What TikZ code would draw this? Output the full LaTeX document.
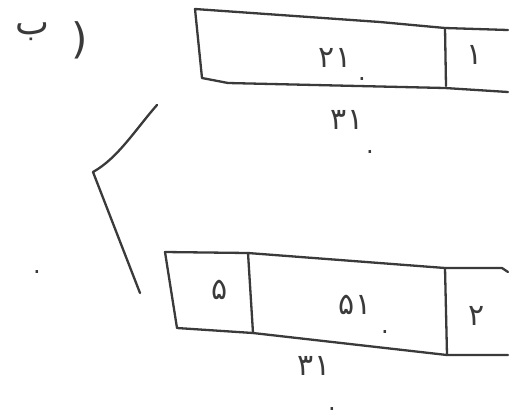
\documentclass[tikz,border=0pt]{standalone}
\usepackage{fontspec}
\newfontfamily\fafont{DejaVu Sans}
\definecolor{ink}{HTML}{3A3A3A}
\tikzset{
  pen/.style={draw=ink, line width=2.3pt, line join=round, line cap=round},
  lbl/.style={text=ink, font=\fafont\fontsize{30}{30}\selectfont, inner sep=0pt},
  dotlbl/.style={text=ink, font=\fafont\fontsize{24}{24}\selectfont, inner sep=0pt, anchor=base}
}
\begin{document}
\begin{tikzpicture}[x=1pt,y=-1pt]
\useasboundingbox[fill=white] (0,0) rectangle (510,416);
% title
\node[lbl, font=\fafont\fontsize{36}{36}\selectfont, anchor=base] (title) at (32,34) {ب};
\node[lbl, font=\fafont\fontsize{42}{42}\selectfont] (paren) at (80,40) {)};
% top box
\draw[pen] (508,30) -- (445,28) -- (380,22) -- (195,9) -- (202,78) -- (228,83) -- (445,88) -- (508,92);
\draw[pen] (445,28) -- (446,86);
\node[lbl] (t1) at (335,58) {۲۱};
\node[dotlbl] (t1d) at (362,80) {.};
\node[lbl] (t2) at (475,55) {۱};
\node[lbl] (t3) at (347,120) {۳۱};
\node[dotlbl] (t3d) at (370,153) {.};
% bracket
\draw[pen] (157,105) .. controls (135,130) and (118,158) .. (93,172) -- (140,293);
% stray dot
\node[dotlbl] (sd) at (37,273) {.};
% bottom box
\draw[pen] (508,272) -- (502,268) -- (445,268) -- (248,253) -- (165,252) -- (177,328) -- (253,333) -- (447,355) -- (508,355);
\draw[pen] (248,253) -- (253,333);
\draw[pen] (445,268) -- (447,355);
\node[lbl] (b1) at (220,290) {۵};
\node[lbl] (b2) at (355,305) {۵۱};
\node[dotlbl] (b2d) at (385,333) {.};
\node[lbl] (b3) at (477,316) {۲};
\node[lbl] (b4) at (314,366) {۳۱};
\node[dotlbl] (b4d) at (332,410) {.};
\end{tikzpicture}
\end{document}
